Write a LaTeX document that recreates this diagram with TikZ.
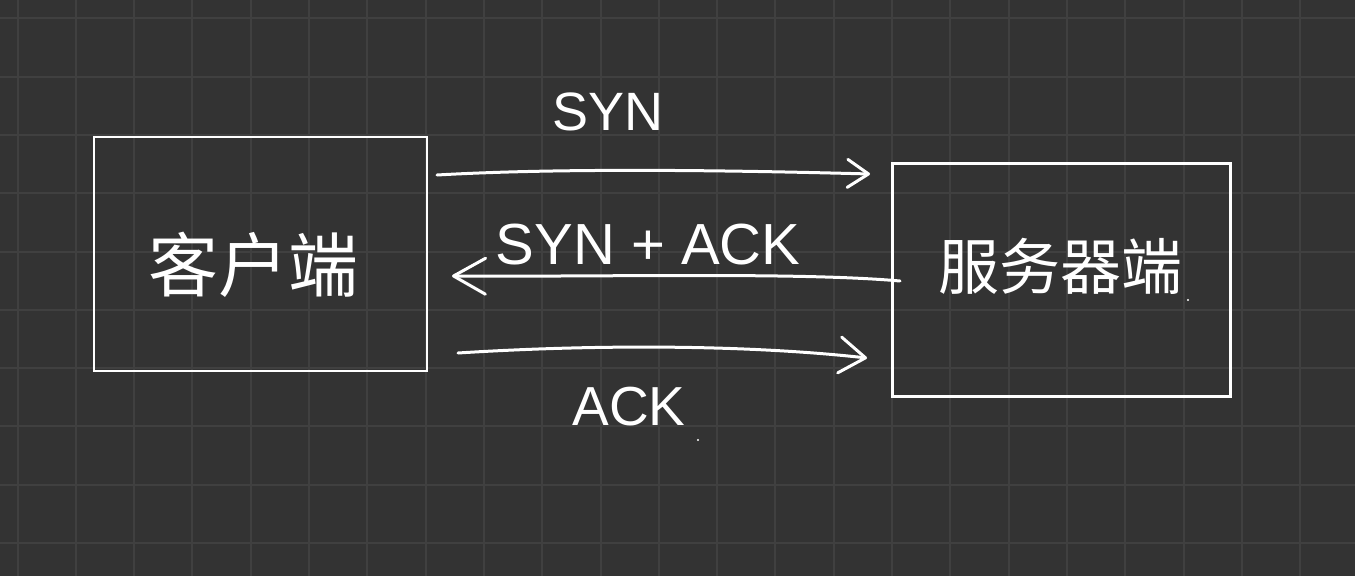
\documentclass[tikz,border=0pt]{standalone}
\usepackage{fontspec}
\setmainfont{Liberation Sans}
\newfontfamily\cjk{Noto Sans CJK SC}
\usetikzlibrary{arrows.meta}
\definecolor{bg}{HTML}{333333}
\definecolor{gridc}{HTML}{404040}
\begin{document}
\begin{tikzpicture}[x=1pt,y=-1pt,
  box/.style={draw=white, line width=2.6pt, inner sep=0pt},
  hw/.style={white, line width=3pt, line cap=round, line join=round},
  tipa/.style={-{Straight Barb[length=21pt,width=28pt,line cap=round,line join=round]}},
  tipb/.style={-{Straight Barb[length=32pt,width=36pt,line cap=round,line join=round]}},
  tipc/.style={-{Straight Barb[length=26pt,width=36pt,line cap=round,line join=round]}},
  lab/.style={text=white, inner sep=0pt},
  cjklab/.style={text=white, inner sep=0pt}]
\fill[bg] (0,0) rectangle (1355,576);
\useasboundingbox (0,0) rectangle (1355,576);
\foreach \i in {0,...,22} \draw[gridc, line width=2pt] ({17.5+58.3*\i},0) -- ({17.5+58.3*\i},576);
\foreach \j in {0,...,9} \draw[gridc, line width=2pt] (0,{18.3+58.3*\j}) -- (1355,{18.3+58.3*\j});
% boxes
\node[box, minimum width=333pt, minimum height=234pt] (client) at (260.5,254) {};
\node[box, minimum width=338pt, minimum height=233pt] (server) at (1061.5,280) {};
\node[cjklab, font=\cjk\fontsize{70}{74}\selectfont] (clientlab) at (253,265) {客户端};
\node[cjklab, font=\cjk\fontsize{61}{65}\selectfont] (serverlab) at (1060,266) {服务器端};
% arrows
\coordinate (s1) at (437,175);
\coordinate (s2) at (870,174);
\draw[hw,tipa] (s1) .. controls (560,168) and (720,170) .. (s2);
\coordinate (a1) at (900,281);
\coordinate (a2) at (452,276);
\draw[hw,tipb] (a1) .. controls (800,272) and (600,277) .. (a2);
\coordinate (k1) at (458,353);
\coordinate (k2) at (867,358);
\draw[hw,tipc] (k1) .. controls (600,344) and (750,345) .. (k2);
% labels
\node[lab, font=\fontsize{54}{58}\selectfont] (synlab) at (608,112) {SYN};
\node[lab, font=\fontsize{58}{62}\selectfont] (synacklab) at (648,245) {SYN + ACK};
\node[lab, font=\fontsize{55}{59}\selectfont] (acklab) at (629,407) {ACK};
\fill[white] (698,440) circle (1.2);
\fill[white] (1188,300) circle (1.2);
\end{tikzpicture}
\end{document}
